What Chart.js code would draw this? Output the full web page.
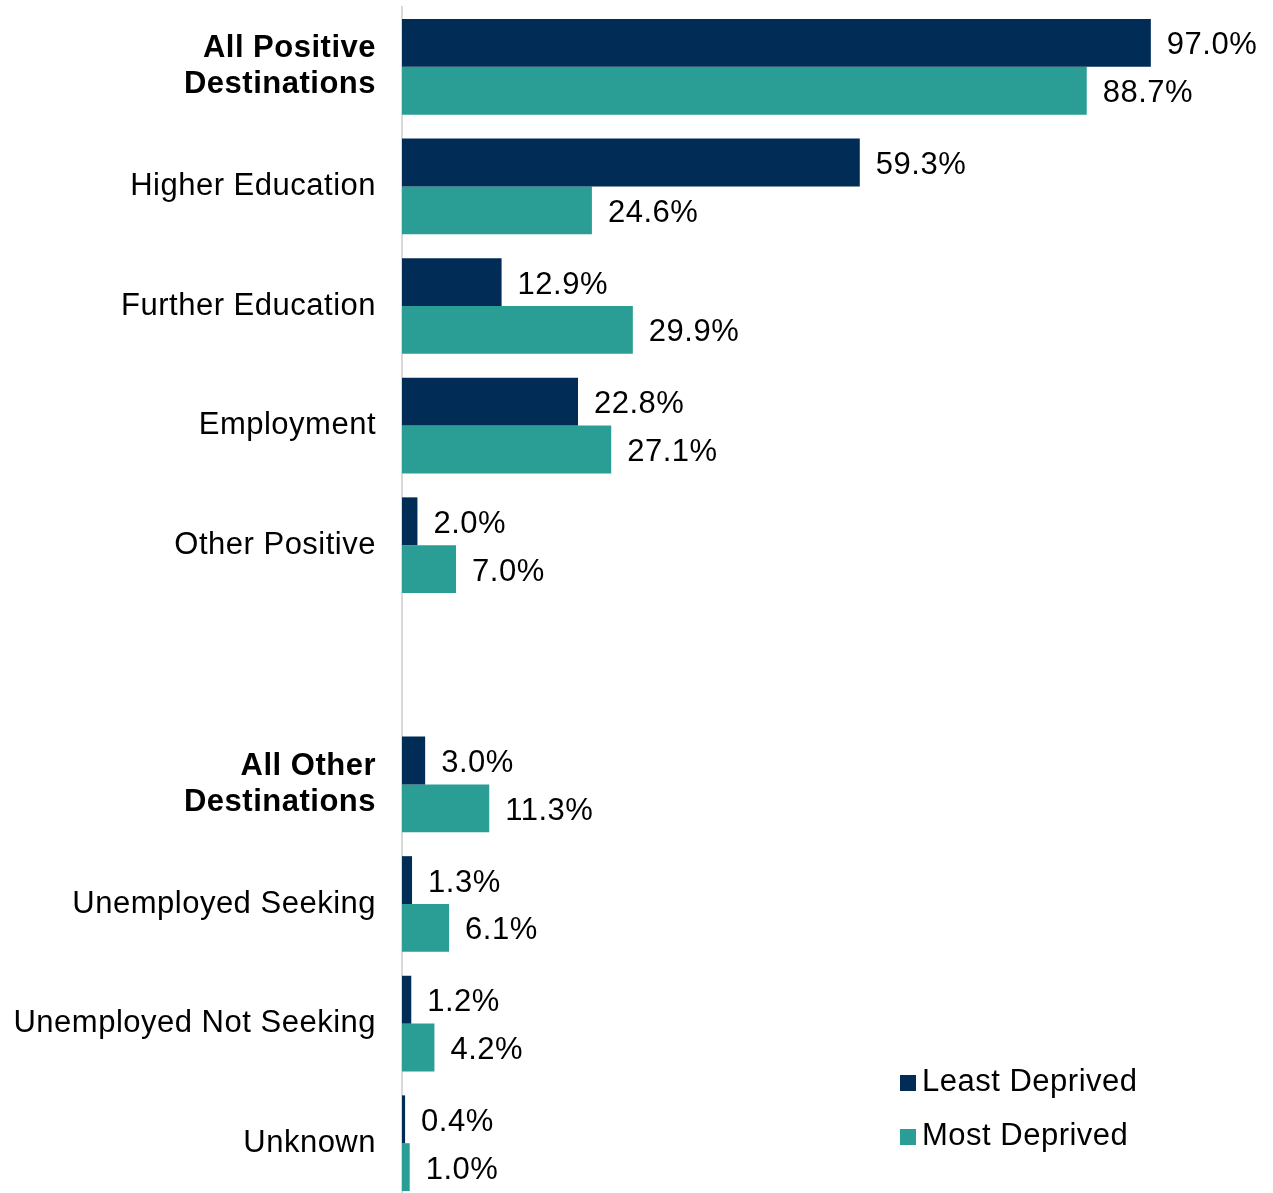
<!DOCTYPE html>
<html>
<head>
<meta charset="utf-8">
<script src="https://cdn.jsdelivr.net/npm/chart.js@4.4.1/dist/chart.umd.min.js"></script>
<style>
  html, body { margin: 0; padding: 0; background: #fff; overflow: hidden; }
</style>
</head>
<body>
<canvas id="chart" width="1273" height="1203"></canvas>
<script>
// Categories (empty one is the gap between the two groups)
const categories = [
  ["All Positive", "Destinations"],
  "Higher Education",
  "Further Education",
  "Employment",
  "Other Positive",
  "",
  ["All Other", "Destinations"],
  "Unemployed Seeking",
  "Unemployed Not Seeking",
  "Unknown"
];
const boldRows = [0, 6];

// Percentages
const leastDeprived = [97.0, 59.3, 12.9, 22.8, 2.0, null, 3.0, 1.3, 1.2, 0.4];
const mostDeprived  = [88.7, 24.6, 29.9, 27.1, 7.0, null, 11.3, 6.1, 4.2, 1.0];

const NAVY = '#002C55';
const TEAL = '#2A9D94';
const FONT = '"Liberation Sans", Arial, sans-serif';
const SIZE = 31;

// slightly wider text, like the original
const spacing = {
  id: 'spacing',
  beforeDraw(chart) { chart.ctx.letterSpacing = '0.5px'; }
};

// Draw value labels to the right of each bar
const valueLabels = {
  id: 'valueLabels',
  afterDatasetsDraw(chart) {
    const ctx = chart.ctx;
    ctx.save();
    ctx.font = SIZE + 'px ' + FONT;
    ctx.fillStyle = '#000';
    ctx.textAlign = 'left';
    ctx.textBaseline = 'middle';
    chart.data.datasets.forEach((ds, i) => {
      chart.getDatasetMeta(i).data.forEach((bar, j) => {
        const v = ds.data[j];
        if (v === null) return;
        ctx.fillText(v.toFixed(1) + '%', bar.x + 16, bar.y + 3);
      });
    });
    ctx.restore();
  }
};

// Legend in the lower right corner
const cornerLegend = {
  id: 'cornerLegend',
  afterDraw(chart) {
    const ctx = chart.ctx;
    ctx.save();
    ctx.font = SIZE + 'px ' + FONT;
    ctx.textBaseline = 'middle';
    ctx.textAlign = 'left';
    chart.data.datasets.forEach((ds, i) => {
      const y = 1082 + i * 54;
      ctx.fillStyle = ds.backgroundColor;
      ctx.fillRect(900, y - 7, 16, 16);
      ctx.fillStyle = '#000';
      ctx.fillText(ds.label, 922, y);
    });
    ctx.restore();
  }
};

new Chart(document.getElementById('chart').getContext('2d'), {
  type: 'bar',
  data: {
    labels: categories,
    datasets: [
      { label: 'Least Deprived', data: leastDeprived, backgroundColor: NAVY },
      { label: 'Most Deprived', data: mostDeprived, backgroundColor: TEAL }
    ]
  },
  options: {
    indexAxis: 'y',
    responsive: false,
    animation: false,
    devicePixelRatio: 1,
    categoryPercentage: 0.8,
    barPercentage: 1.0,
    layout: { padding: { left: 0, right: 99, top: 7, bottom: 0 } },
    plugins: {
      legend: { display: false },
      tooltip: { enabled: false }
    },
    scales: {
      x: {
        display: false,
        min: 0,
        max: 100
      },
      y: {
        afterFit(scale) {
          scale.width = 402;
          scale.paddingTop = 0;
          scale.paddingBottom = 0;
        },
        grid: { display: false, drawTicks: false },
        border: { display: true, color: '#D9D9D9', width: 2 },
        ticks: {
          padding: 26,
          color: '#000',
          autoSkip: false,
          font(ctx) {
            const bold = boldRows.includes(ctx.index);
            return { family: FONT, size: SIZE, weight: bold ? 'bold' : 'normal', lineHeight: 1.16 };
          }
        }
      }
    }
  },
  plugins: [spacing, valueLabels, cornerLegend]
});
</script>
</body>
</html>
